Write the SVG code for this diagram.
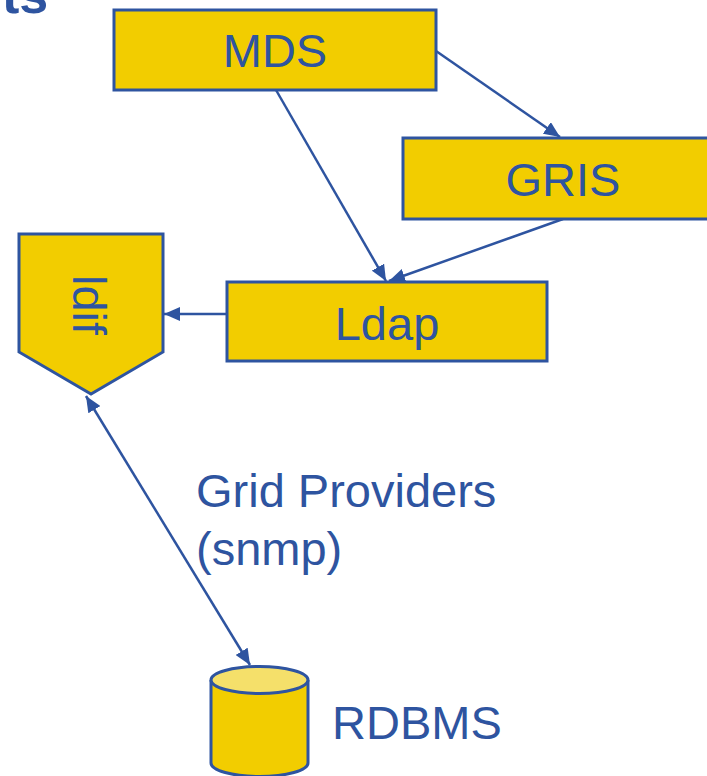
<svg xmlns="http://www.w3.org/2000/svg" width="707" height="776" viewBox="0 0 707 776">
  <style>
    .box { fill: #F2CD00; stroke: #2E54A0; stroke-width: 3; }
    .lbl { font-family: "Liberation Sans", Arial, sans-serif; font-size: 47px; fill: #2E54A0; }
    .mid { text-anchor: middle; }
    .edge { stroke: #2E54A0; stroke-width: 2.5; fill: none; }
  </style>
  <defs>
    <marker id="head" viewBox="0 0 16 14" refX="16" refY="7" markerWidth="16" markerHeight="14" markerUnits="userSpaceOnUse" orient="auto-start-reverse">
      <path d="M0,0 L16,7 L0,14 Z" fill="#2E54A0"/>
    </marker>
  </defs>

  <rect width="707" height="776" fill="#FFFFFF"/>

  <!-- heading (mostly above the frame) -->
  <text x="2" y="13" font-family="Liberation Sans, Arial, sans-serif" font-size="52" font-weight="bold" fill="#2E54A0">ts</text>

  <g id="connectors">
    <line class="edge" x1="436" y1="51" x2="560" y2="137" marker-end="url(#head)"/>
    <line class="edge" x1="276" y1="90" x2="386" y2="281" marker-end="url(#head)"/>
    <line class="edge" x1="563" y1="219" x2="389" y2="281" marker-end="url(#head)"/>
    <line class="edge" x1="228" y1="314" x2="164" y2="314" marker-end="url(#head)"/>
    <line class="edge" x1="86" y1="396" x2="250" y2="665" marker-start="url(#head)" marker-end="url(#head)"/>
  </g>

  <g id="mds">
    <rect class="box" x="114" y="10" width="322" height="80"/>
    <text class="lbl mid" x="275" y="67">MDS</text>
  </g>

  <g id="gris">
    <rect class="box" x="403" y="138" width="310" height="81"/>
    <text class="lbl mid" x="563" y="196">GRIS</text>
  </g>

  <g id="ldap">
    <rect class="box" x="227" y="282" width="320" height="79"/>
    <text class="lbl mid" x="387" y="340">Ldap</text>
  </g>

  <g id="ldif">
    <path class="box" d="M19,234 L163,234 L163,352 L91,394 L19,352 Z"/>
    <text class="lbl mid" transform="translate(73,305) rotate(90)">ldif</text>
  </g>

  <g id="providers">
    <text class="lbl" x="196" y="507">Grid Providers</text>
    <text class="lbl" x="196" y="565">(snmp)</text>
  </g>

  <g id="rdbms">
    <path class="box" d="M211,680 L211,763 A48.5,13.5 0 0 0 308,763 L308,680"/>
    <ellipse cx="259.5" cy="680" rx="48.5" ry="13.5" fill="#F5E06A" stroke="#2E54A0" stroke-width="3"/>
    <text class="lbl" x="332" y="739">RDBMS</text>
  </g>
</svg>
